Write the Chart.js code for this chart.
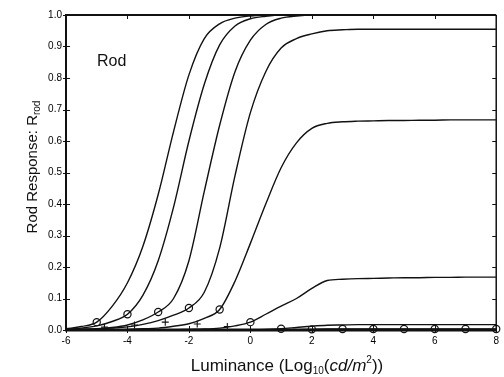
<!DOCTYPE html>
<html>
<head>
<meta charset="utf-8">
<script src="https://cdn.jsdelivr.net/npm/chart.js@4.4.1/dist/chart.umd.min.js"></script>
<style>
  html, body { margin: 0; padding: 0; background: #fff; }
  #wrap { width: 504px; height: 377px; }
</style>
</head>
<body>
<div id="wrap"><canvas id="rodChart" width="504" height="377"></canvas></div>
<script>
// log10 luminance grid shared by all the response curves
const lumX = [-6,-5.5,-5,-4.5,-4,-3.5,-3,-2.5,-2,-1.5,-1,-0.5,0,0.5,1,1.5,2,2.5,3,3.5,4,4.5,5,5.5,6,6.5,7,7.5,8];

// rod response for each adaptation level
const rod1 = [0.004,0.011,0.025,0.075,0.15,0.265,0.43,0.63,0.81,0.925,0.972,0.99,0.997,1,1,1,1,1,1,1,1,1,1,1,1,1,1,1,1];
const rod2 = [0.002,0.006,0.013,0.027,0.05,0.11,0.22,0.39,0.6,0.78,0.905,0.965,0.988,0.996,1,1,1,1,1,1,1,1,1,1,1,1,1,1,1];
const rod3 = [0.001,0.002,0.004,0.008,0.016,0.032,0.057,0.1,0.22,0.44,0.65,0.82,0.92,0.97,0.99,0.997,1,1,1,1,1,1,1,1,1,1,1,1,1];
const rod4 = [0.001,0.002,0.003,0.006,0.01,0.018,0.03,0.047,0.07,0.12,0.26,0.49,0.69,0.82,0.895,0.925,0.94,0.95,0.953,0.955,0.955,0.955,0.955,0.955,0.955,0.955,0.955,0.955,0.955];
const rod5 = [0,0,0.001,0.001,0.002,0.004,0.006,0.012,0.02,0.037,0.065,0.155,0.275,0.4,0.515,0.594,0.64,0.656,0.661,0.663,0.664,0.665,0.665,0.666,0.666,0.667,0.667,0.667,0.667];
const rod6 = [0,0,0,0,0,0,0.001,0.001,0.002,0.003,0.006,0.013,0.025,0.05,0.076,0.1,0.132,0.157,0.161,0.163,0.164,0.165,0.166,0.166,0.167,0.167,0.168,0.168,0.168];
const rod7 = [0,0,0,0,0,0,0,0,0,0,0,0,0,0.002,0.004,0.008,0.012,0.015,0.016,0.017,0.017,0.017,0.017,0.017,0.017,0.017,0.017,0.017,0.017];
const rod8 = [0,0,0,0,0,0,0,0,0,0,0,0,0,0,0,0.001,0.002,0.003,0.003,0.003,0.003,0.003,0.003,0.003,0.003,0.003,0.003,0.003,0.003];

// circle markers (adapting luminance) and cross markers
const circleX = [-5,-4,-3,-2,-1,0,1,2,3,4,5,6,7,8];
const circleY = [0.025,0.05,0.057,0.07,0.065,0.025,0.004,0.002,0.003,0.003,0.003,0.003,0.003,0.003];
const plusX = [-4.75,-3.77,-2.77,-1.73,-0.75];
const plusY = [0.009,0.016,0.025,0.019,0.011];

const xTickMin = -6, xTickMax = 8, xStep = 2;
const yTickMin = 0, yTickMax = 1, yStep = 0.1;

const curves = [rod1, rod2, rod3, rod4, rod5, rod6, rod7, rod8];
const FONT = '"Liberation Sans", Arial, Helvetica, sans-serif';

const datasets = curves.map(c => ({
  data: lumX.map((x, i) => ({ x: x, y: c[i] })),
  borderColor: '#111',
  borderWidth: 1.4,
  pointRadius: 0,
  fill: false,
  cubicInterpolationMode: 'monotone'
}));
datasets.push({
  data: circleX.map((x, i) => ({ x: x, y: circleY[i] })),
  showLine: false,
  pointStyle: 'circle',
  pointRadius: 3.6,
  pointBorderWidth: 1.2,
  pointBorderColor: '#111',
  pointBackgroundColor: 'rgba(255,255,255,0)',
  clip: false
});
datasets.push({
  data: plusX.map((x, i) => ({ x: x, y: plusY[i] })),
  showLine: false,
  pointStyle: 'cross',
  pointRadius: 3.5,
  pointBorderWidth: 1.1,
  pointBorderColor: '#111',
  clip: false
});

// draws text pieces with sub/superscripts, centred on cx at baseline by
function drawRich(ctx, segs, cx, by) {
  let total = 0;
  segs.forEach(s => { ctx.font = s.f; total += ctx.measureText(s.t).width; });
  let px = cx - total / 2;
  segs.forEach(s => {
    ctx.font = s.f;
    ctx.fillText(s.t, px, by + (s.dy || 0));
    px += ctx.measureText(s.t).width;
  });
}

const framePlugin = {
  id: 'frame',
  afterDraw(chart) {
    const { ctx, chartArea: a, scales: { x, y } } = chart;
    ctx.save();
    ctx.strokeStyle = '#111';
    ctx.lineWidth = 1;
    y.ticks.forEach(t => {
      const py = Math.round(y.getPixelForValue(t.value)) + 0.5;
      ctx.beginPath();
      ctx.moveTo(a.left - 3, py); ctx.lineTo(a.left + 4, py);
      ctx.moveTo(a.right - 4, py); ctx.lineTo(a.right, py);
      ctx.stroke();
    });
    x.ticks.forEach(t => {
      const px = Math.round(x.getPixelForValue(t.value)) + 0.5;
      ctx.beginPath();
      ctx.moveTo(px, a.bottom + 3); ctx.lineTo(px, a.bottom - 4);
      ctx.moveTo(px, a.top); ctx.lineTo(px, a.top + 4);
      ctx.stroke();
    });
    // box
    ctx.lineWidth = 2;
    ctx.beginPath();
    ctx.moveTo(a.left, a.bottom); ctx.lineTo(a.left, a.top); ctx.lineTo(a.right, a.top);
    ctx.stroke();
    ctx.lineWidth = 1.5;
    ctx.beginPath();
    ctx.moveTo(a.right, a.top); ctx.lineTo(a.right, a.bottom);
    ctx.stroke();
    ctx.lineWidth = 3;
    ctx.beginPath();
    ctx.moveTo(a.left - 1, a.bottom); ctx.lineTo(a.right, a.bottom);
    ctx.stroke();

    ctx.fillStyle = '#111';
    ctx.textBaseline = 'alphabetic';
    ctx.textAlign = 'left';
    // "Rod" label
    ctx.font = '16px ' + FONT;
    ctx.fillText('Rod', 97, 66);
    // x title
    drawRich(ctx, [
      { t: 'Luminance (Log', f: '17px ' + FONT },
      { t: '10', f: '10px ' + FONT, dy: 3 },
      { t: '(', f: '17px ' + FONT },
      { t: 'cd/m', f: 'italic 17px ' + FONT },
      { t: '2', f: '10px ' + FONT, dy: -8 },
      { t: '))', f: '17px ' + FONT }
    ], 287, 371);
    // y title
    ctx.translate(37, 167);
    ctx.rotate(-Math.PI / 2);
    drawRich(ctx, [
      { t: 'Rod Response: R', f: '15px ' + FONT },
      { t: 'rod', f: '10px ' + FONT, dy: 3 }
    ], 0, 0);
    ctx.restore();
  }
};

new Chart(document.getElementById('rodChart'), {
  type: 'line',
  data: { datasets: datasets },
  options: {
    responsive: false,
    devicePixelRatio: 1,
    animation: false,
    layout: { padding: { left: 0, top: 15, right: 7, bottom: 0 } },
    plugins: { legend: { display: false }, tooltip: { enabled: false } },
    scales: {
      x: {
        type: 'linear',
        min: xTickMin, max: xTickMax,
        grid: { display: false, drawTicks: false },
        border: { display: false },
        ticks: { stepSize: xStep, padding: 5, color: '#000', font: { family: FONT, size: 10 } },
        afterFit: s => { s.height = 47; }
      },
      y: {
        min: yTickMin, max: yTickMax,
        grid: { display: false, drawTicks: false },
        border: { display: false },
        ticks: { stepSize: yStep, padding: 4, color: '#000', font: { family: FONT, size: 10 },
          callback: v => v.toFixed(1) },
        afterFit: s => { s.width = 66; }
      }
    }
  },
  plugins: [framePlugin]
});
</script>
</body>
</html>
